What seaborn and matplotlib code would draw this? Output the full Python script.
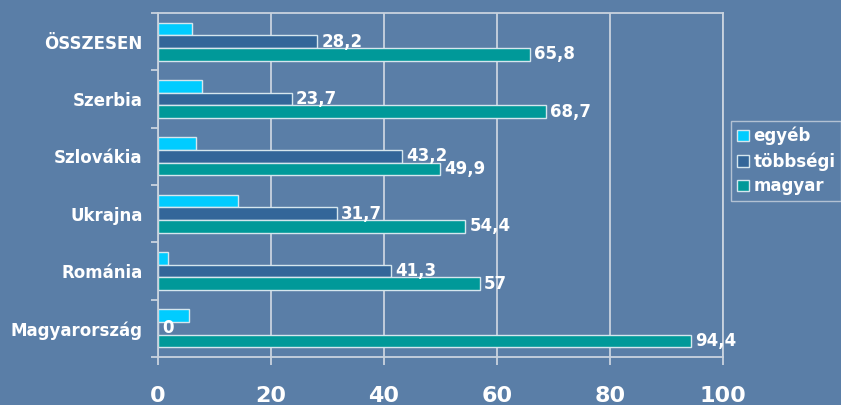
import pandas as pd
import seaborn as sns
import matplotlib.pyplot as plt

orszagok = ["ÖSSZESEN", "Szerbia", "Szlovákia", "Ukrajna", "Románia", "Magyarország"]
csoportok = ["egyéb", "többségi", "magyar"]
egyeb = [6.1, 7.7, 6.8, 14.1, 1.8, 5.5]
tobbsegi = [28.2, 23.7, 43.2, 31.7, 41.3, 0]
magyar = [65.8, 68.7, 49.9, 54.4, 57, 94.4]
szinek = ["#00CCFF", "#336699", "#009999"]
x_ticks = [0, 20, 40, 60, 80, 100]

bg = "#5a7ea7"
grid_c = "#c9d3df"

sns.set_style("white")
plt.rcParams['font.family'] = ['DejaVu Sans']
plt.rcParams['font.weight'] = 'bold'

df = pd.DataFrame({
    "orszag": orszagok * 3,
    "csoport": [c for c in csoportok for _ in orszagok],
    "ertek": egyeb + tobbsegi + magyar,
})

fig = plt.figure(figsize=(8.41, 4.05), dpi=100, facecolor=bg)
ax = fig.add_axes([158 / 841, 1 - 357 / 405, (723 - 158) / 841, (357 - 13) / 405])
ax.set_facecolor(bg)

sns.barplot(data=df, y="orszag", x="ertek", hue="csoport", order=orszagok,
            hue_order=csoportok, palette=szinek, saturation=1, orient="h",
            width=0.667, edgecolor="#d5e6ee", linewidth=1, errorbar=None, ax=ax)

# value labels (comma decimal), only for többségi and magyar
for cont, vals in zip(ax.containers[1:], [tobbsegi, magyar]):
    ax.bar_label(cont, labels=[f"{v:g}".replace(".", ",") for v in vals],
                 padding=3, color="white", fontsize=12, fontweight="bold")

ax.set_xlim(0, 100)
ax.set_xticks(x_ticks)
ax.set_xlabel("")
ax.set_ylabel("")
ax.xaxis.grid(True, color=grid_c, linewidth=1.3)
ax.set_axisbelow(True)
for s in ax.spines.values():
    s.set_color(grid_c)
    s.set_linewidth(1.3)
    s.set_visible(True)

ax.tick_params(axis="x", colors=grid_c, length=6, width=1.3, pad=15,
               labelsize=16, labelcolor="white", direction="out", bottom=True)
ax.tick_params(axis="y", which="major", length=0, pad=11, labelsize=12,
               labelcolor="white")
ax.set_yticks([i - 0.5 for i in range(len(orszagok) + 1)], minor=True)
ax.tick_params(axis="y", which="minor", length=5, width=1.3, color=grid_c,
               left=True, direction="out")
for t in ax.get_xticklabels() + ax.get_yticklabels():
    t.set_fontweight("bold")

handles, labels = ax.get_legend_handles_labels()
ax.get_legend().remove()
leg = fig.legend(handles, labels, loc="upper left",
                 bbox_to_anchor=(731 / 841, 1 - 121 / 405), borderaxespad=0,
                 frameon=True, fancybox=False, fontsize=12,
                 handlelength=0.7, handleheight=0.7, handletextpad=0.3,
                 labelspacing=0.4, borderpad=0.35, labelcolor="white")
leg.get_frame().set_facecolor("none")
leg.get_frame().set_edgecolor(grid_c)
for t in leg.get_texts():
    t.set_fontweight("bold")

fig.savefig("out.png", dpi=100, facecolor=bg)
